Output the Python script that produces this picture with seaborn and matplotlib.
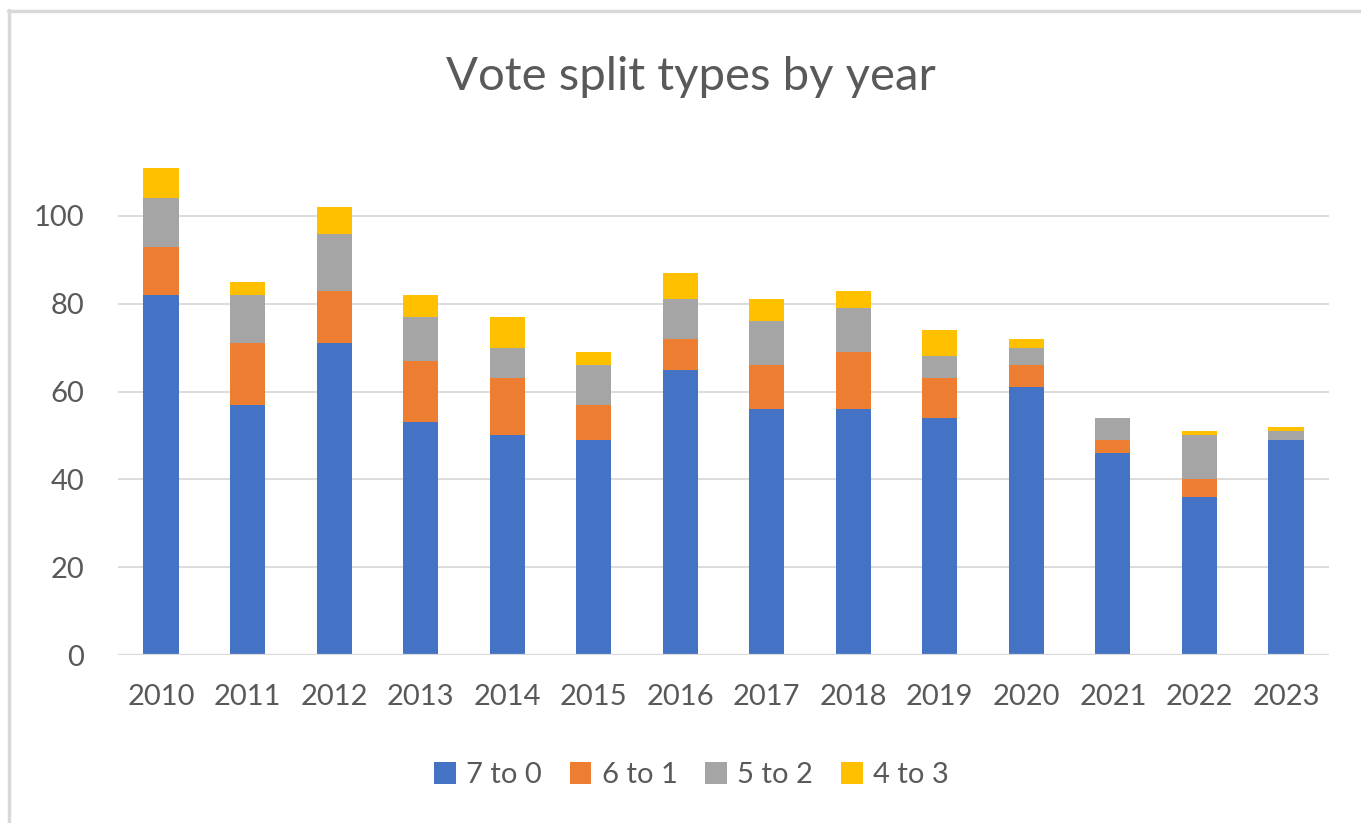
import matplotlib
matplotlib.use("Agg")
import matplotlib.pyplot as plt
from matplotlib.lines import Line2D
from matplotlib.patches import Patch
import numpy as np
import pandas as pd
import seaborn as sns

# Vote counts per year, split by the margin of the vote
years = ["2010", "2011", "2012", "2013", "2014", "2015", "2016",
         "2017", "2018", "2019", "2020", "2021", "2022", "2023"]
split_7_0 = [82, 57, 71, 53, 50, 49, 65, 56, 56, 54, 61, 46, 36, 49]
split_6_1 = [11, 14, 12, 14, 13, 8, 7, 10, 13, 9, 5, 3, 4, 0]
split_5_2 = [11, 11, 13, 10, 7, 9, 9, 10, 10, 5, 4, 5, 10, 2]
split_4_3 = [7, 3, 6, 5, 7, 3, 6, 5, 4, 6, 2, 0, 1, 1]
series_names = ["7 to 0", "6 to 1", "5 to 2", "4 to 3"]
y_ticks = [0, 20, 40, 60, 80, 100]

colors = ["#4472C4", "#ED7D31", "#A5A5A5", "#FFC000"]
text_color = "#595959"
grid_color = "#D9D9D9"

sns.set_theme(style="white")
plt.rcParams["font.family"] = ["Lato", "DejaVu Sans"]

series = [split_7_0, split_6_1, split_5_2, split_4_3]
cumulative = np.cumsum(np.array(series), axis=0)
df = pd.DataFrame({"year": years})
for name, cum in zip(series_names, cumulative):
    df[name] = cum

fig = plt.figure(figsize=(13.61, 8.23), dpi=100)
ax = fig.add_axes([0.0865, 0.2041, 0.8902, 0.5975])

# Stacked bars: draw the running totals from the top segment down
for name, color in reversed(list(zip(series_names, colors))):
    sns.barplot(data=df, x="year", y=name, color=color, width=0.405,
                linewidth=0, saturation=1, ax=ax, zorder=3)

ax.set_ylim(0, 112)
ax.set_xlim(-0.5, len(years) - 0.5)
ax.set_yticks(y_ticks)
ax.set_xlabel("")
ax.set_ylabel("")
for y in y_ticks[1:]:
    ax.axhline(y, color=grid_color, lw=1.3, zorder=1)
ax.axhline(0, color=grid_color, lw=1.6, zorder=4)
for s in ax.spines.values():
    s.set_visible(False)
ax.tick_params(axis="x", length=0, pad=21, labelsize=21, labelcolor=text_color)
ax.tick_params(axis="y", length=0, pad=24, labelsize=21, labelcolor=text_color)

fig.text(0.5075, 0.907, "Vote split types by year", ha="center", va="center",
         fontsize=34, color=text_color)

handles = [Patch(facecolor=c, edgecolor="none") for c in colors]
fig.legend(handles, series_names, loc="center", bbox_to_anchor=(0.508, 0.058),
           ncol=4, frameon=False, fontsize=21, labelcolor=text_color,
           handlelength=0.75, handleheight=0.75, handletextpad=0.35,
           columnspacing=0.95)

# Chart-area frame along the top and left edges
fig.add_artist(Line2D([9 / 1361, 9 / 1361], [0, 1 - 10 / 823],
                      transform=fig.transFigure, color=grid_color, lw=2.5))
fig.add_artist(Line2D([8 / 1361, 1], [1 - 11 / 823, 1 - 11 / 823],
                      transform=fig.transFigure, color=grid_color, lw=2.5))

fig.savefig("out.png", dpi=100, facecolor="white")
